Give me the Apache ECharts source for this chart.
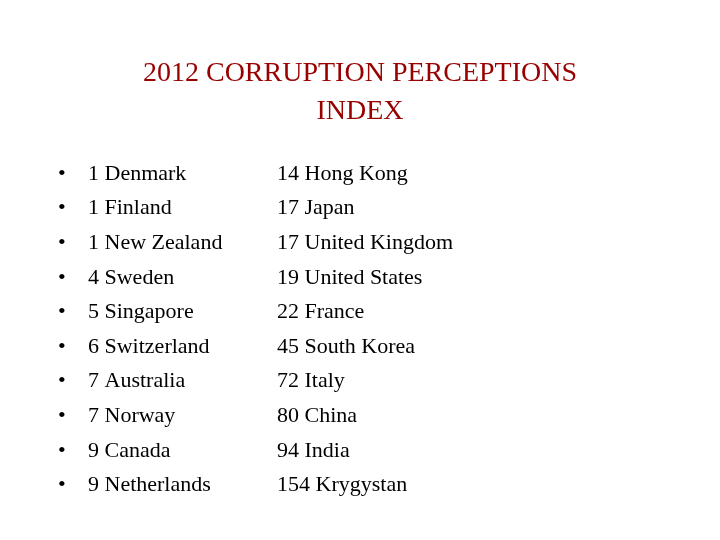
<!DOCTYPE html>
<html><head><meta charset="utf-8">
<script src="https://cdn.jsdelivr.net/npm/echarts@6/dist/echarts.min.js"></script>
<style>html,body{margin:0;padding:0;background:#fff}#c{width:720px;height:540px}</style>
</head><body><div id="c"></div>
<script>
const titleLines = ["2012 CORRUPTION PERCEPTIONS", "INDEX"];
const leftRanks = [1, 1, 1, 4, 5, 6, 7, 7, 9, 9];
const leftCountries = ["Denmark","Finland","New Zealand","Sweden","Singapore","Switzerland","Australia","Norway","Canada","Netherlands"];
const rightRanks = [14, 17, 17, 19, 22, 45, 72, 80, 94, 154];
const rightCountries = ["Hong Kong","Japan","United Kingdom","United States","France","South Korea","Italy","China","India","Krygystan"];

const ff = 'Liberation Serif';
const chart = echarts.init(document.getElementById('c'));
const els = [];
titleLines.forEach((t, i) => {
  els.push({type:'text', left:'center', top: 60 + i*38,
    style:{text:t, fontFamily:ff, fontSize:28, fill:'#990000'}});
});
const rowTop = 163, rowGap = 34.6;
leftRanks.forEach((r, i) => {
  const y = rowTop + i*rowGap;
  els.push({type:'text', left:58, top:y, style:{text:'•', fontFamily:ff, fontSize:22, fill:'#000'}});
  els.push({type:'text', left:88, top:y, style:{text:r + ' ' + leftCountries[i], fontFamily:ff, fontSize:22, fill:'#000'}});
  els.push({type:'text', left:277, top:y, style:{text:rightRanks[i] + ' ' + rightCountries[i], fontFamily:ff, fontSize:22, fill:'#000'}});
});
chart.setOption({backgroundColor:'#fff', graphic:{elements:els}});
</script></body></html>
